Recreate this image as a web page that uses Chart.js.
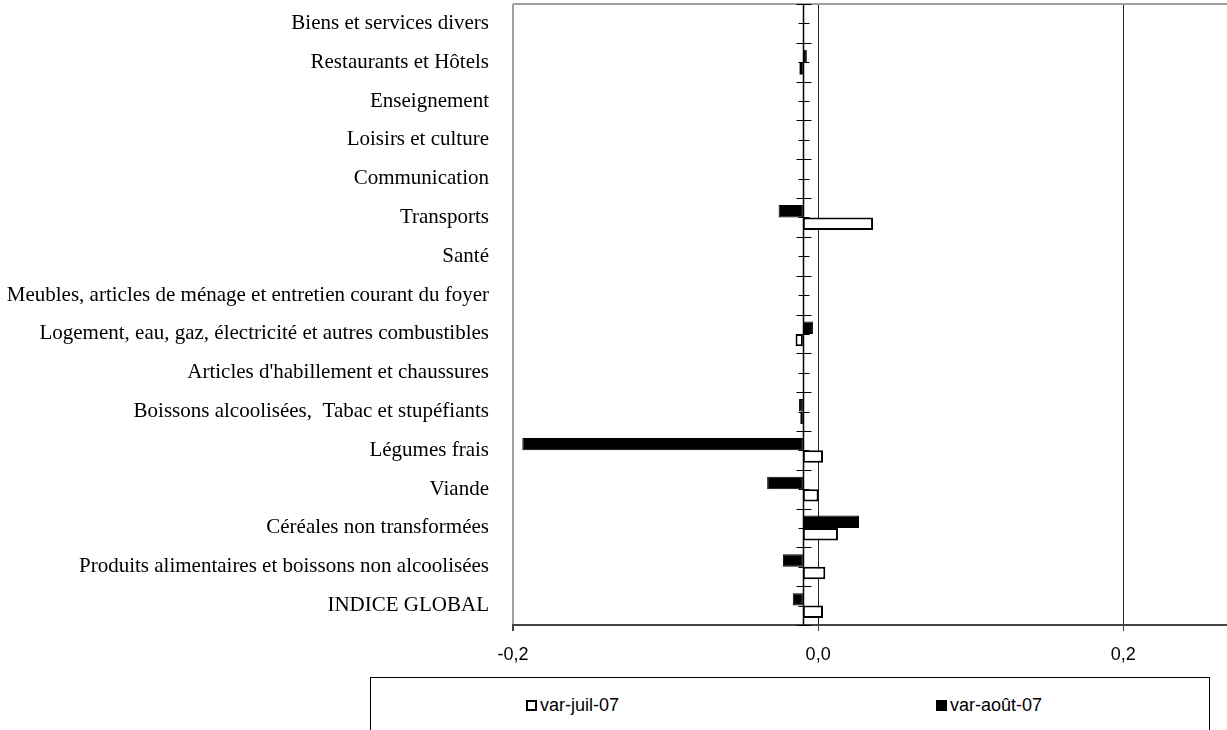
<!DOCTYPE html>
<html>
<head>
<meta charset="utf-8">
<title>Variations des prix</title>
<script src="https://cdn.jsdelivr.net/npm/chart.js@4.4.0/dist/chart.umd.min.js"></script>
<style>
    body { margin: 0; background: #fff; }
    #wrap { position: relative; width: 1227px; height: 730px; overflow: hidden; }
    #legend {
        position: absolute; left: 370px; top: 677px; width: 838px; height: 90px;
        border: 1px solid #000; background: #fff;
        font-family: "Liberation Sans", Arial, sans-serif; font-size: 18px; color: #000;
    }
    .item { position: absolute; top: 17px; white-space: nowrap; }
    .box { display: inline-block; width: 11px; height: 11px; margin-right: 3px; box-sizing: border-box; vertical-align: 0px; }
</style>
</head>
<body>
<div id="wrap">
    <canvas id="myChart" width="1227" height="730"></canvas>
    <div id="legend"></div>
</div>
<script>
// categories, top to bottom
var categories = [
    "Biens et services divers",
    "Restaurants et Hôtels",
    "Enseignement",
    "Loisirs et culture",
    "Communication",
    "Transports",
    "Santé",
    "Meubles, articles de ménage et entretien courant du foyer",
    "Logement, eau, gaz, électricité et autres combustibles",
    "Articles d'habillement et chaussures",
    "Boissons alcoolisées,  Tabac et stupéfiants",
    "Légumes frais",
    "Viande",
    "Céréales non transformées",
    "Produits alimentaires et boissons non alcoolisées",
    "INDICE GLOBAL"
];
var varJuil = [null, -0.0123, null, null, null, 0.036, null, null, -0.0148, null, -0.0117, 0.0032, 0.0003, 0.013, 0.0047, 0.0032];
var varAout = [null, -0.0074, null, null, null, -0.0259, null, null, -0.0034, null, -0.0125, -0.1939, -0.0334, 0.0268, -0.0231, -0.0166];
var xTicks = [-0.2, 0, 0.2];
var axisCross = -0.01;   // the category axis crosses here, bars start from it

// category axis with tick marks crossing it + top border of the plot
var crossAxis = {
    id: 'crossAxis',
    beforeDatasetsDraw: function (chart) {
        var c = chart.ctx;
        var xs = chart.scales.x;
        var ys = chart.scales.y;
        var area = chart.chartArea;
        var px = Math.round(xs.getPixelForValue(axisCross)) + 0.5;
        var step = ys.getPixelForValue(1) - ys.getPixelForValue(0);
        c.save();
        c.strokeStyle = '#a0a0a0';
        c.lineWidth = 2;
        c.beginPath();
        c.moveTo(area.left, area.top);
        c.lineTo(area.right, area.top);
        c.stroke();

        c.strokeStyle = '#000';
        c.lineWidth = 1.5;
        c.beginPath();
        c.moveTo(px, area.top);
        c.lineTo(px, area.bottom);
        c.stroke();
        c.lineWidth = 1;
        c.beginPath();
        for (var i = 0; i <= categories.length; i++) {
            var yb = Math.round(ys.getPixelForValue(i) - step / 2) + 0.5;
            c.moveTo(px - 7, yb);
            c.lineTo(px + 8, yb);
            if (i < categories.length) {
                var ym = Math.round(ys.getPixelForValue(i)) + 0.5;
                c.moveTo(px - 5, ym);
                c.lineTo(px + 6, ym);
            }
        }
        c.stroke();
        c.restore();
    }
};

var ctx = document.getElementById('myChart');
var barGraph = new Chart(ctx, {
    type: 'bar',
    data: {
        labels: categories,
        datasets: [
            {
                label: 'var-août-07',
                data: varAout,
                base: axisCross,
                backgroundColor: '#000',
                borderColor: '#000',
                borderWidth: 1,
                borderSkipped: false,
                categoryPercentage: 0.64,
                barPercentage: 1.0
            },
            {
                label: 'var-juil-07',
                data: varJuil,
                base: axisCross,
                backgroundColor: '#fff',
                borderColor: '#000',
                borderWidth: 2,
                borderSkipped: false,
                categoryPercentage: 0.64,
                barPercentage: 1.0
            }
        ]
    },
    options: {
        indexAxis: 'y',
        responsive: false,
        animation: false,
        layout: { padding: { top: 4, right: 0, bottom: 0, left: 0 } },
        plugins: {
            legend: { display: false },
            tooltip: { enabled: false }
        },
        scales: {
            x: {
                type: 'linear',
                min: -0.2,
                max: 0.268,
                afterBuildTicks: function (scale) {
                    scale.ticks = xTicks.map(function (v) { return { value: v }; });
                },
                afterFit: function (scale) { scale.height = 105; },
                ticks: {
                    color: '#000',
                    padding: 13,
                    font: { family: 'Liberation Sans', size: 18 },
                    callback: function (v) { return Number(v).toFixed(1).replace('.', ','); }
                },
                grid: {
                    color: function (c) { return c.tick && c.tick.value === -0.2 ? '#a0a0a0' : '#222'; },
                    lineWidth: function (c) { return c.tick && c.tick.value === -0.2 ? 2 : 1; },
                    tickLength: 6,
                    tickColor: '#444'
                },
                border: { color: '#444', width: 2 }
            },
            y: {
                afterFit: function (scale) {
                    scale.width = 513;
                    // labels sit inside the offset cells, no extra room needed
                    scale.paddingTop = 0;
                    scale.paddingBottom = 0;
                },
                ticks: {
                    color: '#000',
                    padding: 24,
                    autoSkip: false,
                    font: { family: 'Liberation Serif', size: 21 }
                },
                grid: { display: false, drawTicks: false },
                border: { display: false }
            }
        }
    },
    plugins: [crossAxis]
});

// legend box under the chart, juil first
var legend = document.getElementById('legend');
var lefts = [155, 565];
barGraph.data.datasets.slice().reverse().forEach(function (ds, i) {
    var item = document.createElement('div');
    item.className = 'item';
    item.style.left = lefts[i] + 'px';
    var box = document.createElement('span');
    box.className = 'box';
    box.style.background = ds.backgroundColor;
    box.style.border = '2px solid ' + ds.borderColor;
    item.appendChild(box);
    item.appendChild(document.createTextNode(ds.label));
    legend.appendChild(item);
});
</script>
</body>
</html>
